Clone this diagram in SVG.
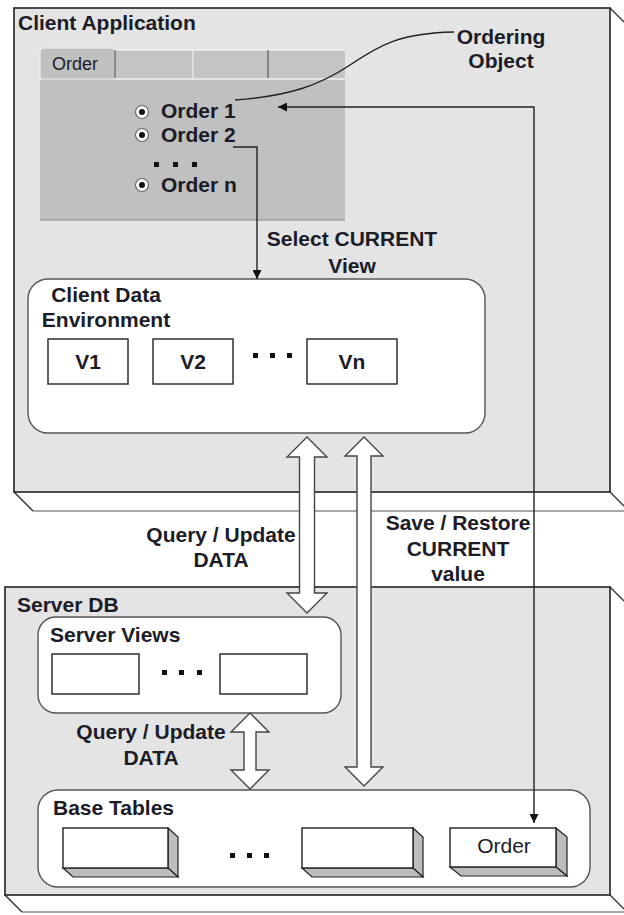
<svg xmlns="http://www.w3.org/2000/svg" width="624" height="915" viewBox="0 0 624 915">
  <style>
    .lbl { font-family: "Liberation Sans", Arial, sans-serif; font-weight: bold; font-size: 21px; fill: #1c1c28; }
    .mid { text-anchor: middle; }
    .box3d { fill: #e4e4e4; stroke: #222; stroke-width: 1.6; }
    .depth { fill: none; stroke: #333; stroke-width: 1.4; }
    .floor { fill: none; stroke: #8a8a8a; stroke-width: 1.4; }
    .group { fill: #fff; stroke: #555; stroke-width: 1.4; }
    .plain { fill: #fff; stroke: #222; stroke-width: 1.4; }
    .side { fill: #bdbdbd; stroke: #222; stroke-width: 1.2; }
    .dot { fill: #111; }
    .wire { fill: none; stroke: #222; stroke-width: 1.4; }
    .block { fill: #fff; stroke: #444; stroke-width: 1.4; stroke-linejoin: miter; }
    .radio { fill: #fff; stroke: #666; stroke-width: 1.2; }
  </style>
  <defs>
    <marker id="head" viewBox="0 0 10 10" refX="10" refY="5" markerWidth="11" markerHeight="9" markerUnits="userSpaceOnUse" orient="auto-start-reverse">
      <path d="M0,0 L10,5 L0,10 z" fill="#111"/>
    </marker>
  </defs>

  <rect width="624" height="915" fill="#fff"/>

  <!-- Client application slab -->
  <g id="client-app">
    <path class="depth" d="M14,492 L33,511"/>
    <path class="floor" d="M33,511 H624"/>
    <path class="depth" d="M610,8 L624,22 M610,492 L624,506"/>
    <rect class="box3d" x="14" y="8" width="596" height="484"/>
    <text class="lbl" x="18" y="30">Client Application</text>
  </g>

  <!-- Order form with tabs and radio list -->
  <g id="order-form">
    <rect x="40" y="79" width="305" height="141" fill="#c0c0c0"/>
    <path d="M40,220 H345" stroke="#8a8a8a" stroke-width="1.2"/>
    <path d="M40,79 V52 Q40,48 44,48 H113 L115,50 V79 Z" fill="#c0c0c0" stroke="#f2f2f2" stroke-width="1.2"/>
    <rect x="115" y="50" width="230" height="29" fill="#c4c4c4"/>
    <path d="M115,50 H345 M115,79 H345" stroke="#f0f0f0" stroke-width="1.4"/>
    <path d="M115,50 V78 M268,50 V78" stroke="#444" stroke-width="1"/>
    <path d="M193,50 V78" stroke="#f0f0f0" stroke-width="1.2"/>
    <text x="52" y="70" font-family="Liberation Sans, Arial, sans-serif" font-size="18" fill="#1c1c28">Order</text>

    <circle class="radio" cx="142" cy="112" r="6.5"/>
    <circle class="dot" cx="142" cy="112" r="3"/>
    <circle class="radio" cx="142" cy="135" r="6.5"/>
    <circle class="dot" cx="142" cy="135" r="3"/>
    <circle class="radio" cx="142" cy="185" r="6.5"/>
    <circle class="dot" cx="142" cy="185" r="3"/>
    <text class="lbl" x="161" y="118" font-size="18">Order 1</text>
    <text class="lbl" x="161" y="142" font-size="18">Order 2</text>
    <rect class="dot" x="154" y="162" width="5" height="5"/>
    <rect class="dot" x="173" y="162" width="5" height="5"/>
    <rect class="dot" x="192" y="162" width="5" height="5"/>
    <text class="lbl" x="161" y="192" font-size="18">Order n</text>
  </g>

  <!-- Callout label -->
  <g id="ordering-object">
    <text class="lbl mid" x="501" y="44">Ordering</text>
    <text class="lbl mid" x="501" y="68">Object</text>
  </g>

  <!-- Client data environment -->
  <g id="client-data-env">
    <rect class="group" x="28" y="279" width="457" height="154" rx="20"/>
    <text class="lbl mid" x="106" y="302">Client Data</text>
    <text class="lbl mid" x="106" y="327">Environment</text>
    <rect class="plain" x="48" y="339" width="80" height="45"/>
    <text class="lbl mid" x="88" y="369" font-size="20">V1</text>
    <rect class="plain" x="153" y="339" width="80" height="45"/>
    <text class="lbl mid" x="193" y="369" font-size="20">V2</text>
    <rect class="dot" x="253" y="353" width="5" height="5"/>
    <rect class="dot" x="270" y="353" width="5" height="5"/>
    <rect class="dot" x="287" y="353" width="5" height="5"/>
    <rect class="plain" x="307" y="339" width="90" height="45"/>
    <text class="lbl mid" x="352" y="369" font-size="20">Vn</text>
  </g>

  <!-- Server database slab -->
  <g id="server-db">
    <path class="depth" d="M5,895 L22,912"/>
    <path class="floor" d="M22,912 H624"/>
    <path class="depth" d="M610,587 L624,601 M610,895 L624,909"/>
    <rect class="box3d" x="5" y="587" width="605" height="308"/>
    <text class="lbl" x="17" y="612">Server DB</text>
  </g>

  <!-- Server views -->
  <g id="server-views">
    <rect class="group" x="38" y="617" width="303" height="96" rx="18"/>
    <text class="lbl" x="50" y="642">Server Views</text>
    <rect class="plain" x="52" y="654" width="87" height="40"/>
    <rect class="dot" x="162" y="670" width="5" height="5"/>
    <rect class="dot" x="179" y="670" width="5" height="5"/>
    <rect class="dot" x="197" y="670" width="5" height="5"/>
    <rect class="plain" x="220" y="654" width="87" height="40"/>
  </g>

  <!-- Base tables -->
  <g id="base-tables">
    <rect class="group" x="38" y="790" width="552" height="97" rx="20"/>
    <text class="lbl" x="53" y="815">Base Tables</text>
    <g id="table-1">
      <path class="side" d="M168,828 L178,837 V877 L168,868 Z"/>
      <path class="side" d="M63,868 H168 L178,877 H73 Z"/>
      <rect class="plain" x="63" y="828" width="105" height="40"/>
    </g>
    <rect class="dot" x="230" y="853" width="5" height="5"/>
    <rect class="dot" x="247" y="853" width="5" height="5"/>
    <rect class="dot" x="264" y="853" width="5" height="5"/>
    <g id="table-2">
      <path class="side" d="M413,828 L423,837 V877 L413,868 Z"/>
      <path class="side" d="M302,868 H413 L423,877 H312 Z"/>
      <rect class="plain" x="302" y="828" width="111" height="40"/>
    </g>
    <g id="table-order">
      <path class="side" d="M556,828 L567,837 V876 L556,867 Z"/>
      <path class="side" d="M450,867 H556 L567,876 H461 Z"/>
      <rect class="plain" x="450" y="828" width="106" height="39"/>
      <text x="504" y="853" text-anchor="middle" font-family="Liberation Sans, Arial, sans-serif" font-size="21" fill="#1c1c28">Order</text>
    </g>
  </g>

  <!-- Connectors -->
  <g id="connectors">
    <path class="wire" d="M235,100 C290,96 320,85 350,65 C380,45 400,33 454,32"/>
    <path class="wire" d="M233,147 H257 V279" marker-end="url(#head)"/>
    <path class="wire" d="M278,107 H534 V823" marker-start="url(#head)" marker-end="url(#head)"/>
    <path class="block" d="M307,437 L327,457 L314.5,457 L314.5,593 L327,593 L307,613 L287,593 L299.5,593 L299.5,457 L287,457 Z"/>
    <path class="block" d="M364,437 L383,456 L371,456 L371,767 L383,767 L364,786 L345,767 L357,767 L357,456 L345,456 Z"/>
    <path class="block" d="M250,713 L269,732 L256,732 L256,770 L269,770 L250,789 L231,770 L244,770 L244,732 L231,732 Z"/>
  </g>

  <!-- Connector labels -->
  <g id="connector-labels">
    <text class="lbl mid" x="352" y="246">Select CURRENT</text>
    <text class="lbl mid" x="352" y="273">View</text>
    <text class="lbl mid" x="221" y="542">Query / Update</text>
    <text class="lbl mid" x="221" y="567">DATA</text>
    <text class="lbl mid" x="458" y="530">Save / Restore</text>
    <text class="lbl mid" x="458" y="556">CURRENT</text>
    <text class="lbl mid" x="458" y="581">value</text>
    <text class="lbl mid" x="151" y="739">Query / Update</text>
    <text class="lbl mid" x="151" y="765">DATA</text>
  </g>
</svg>
